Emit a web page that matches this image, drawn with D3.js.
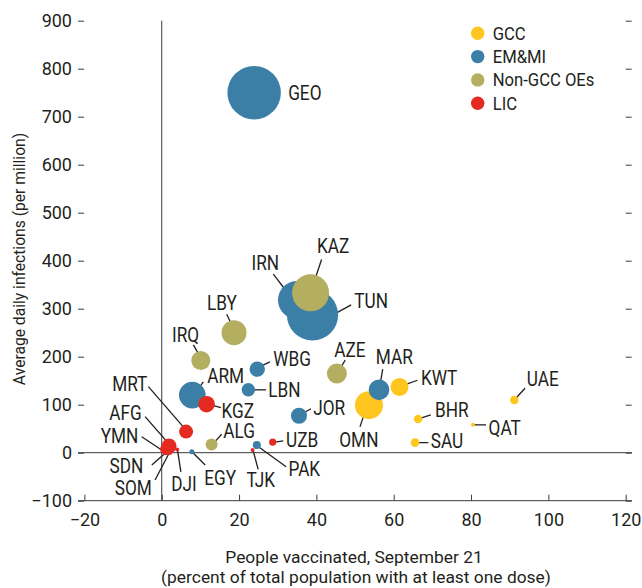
<!DOCTYPE html>
<html>
<head>
<meta charset="utf-8">
<script src="https://cdn.jsdelivr.net/npm/d3@7/dist/d3.min.js"></script>
<style>
  html, body { margin: 0; padding: 0; background: #fff; }
  svg text { font-family: Roboto, "Liberation Sans", sans-serif; fill: #231f20; }
</style>
</head>
<body>
<svg id="chart" width="642" height="588"></svg>
<script>
// ---- Data ----
const codes      = ["GEO","IRN","TUN","KAZ","LBY","IRQ","ARM","KGZ","WBG","LBN","JOR","MRT","ALG","AFG","YMN","SDN","SOM","DJI","EGY","UZB","PAK","TJK","AZE","MAR","OMN","KWT","BHR","SAU","QAT","UAE"];
const groups     = ["EM&MI","EM&MI","EM&MI","Non-GCC OEs","Non-GCC OEs","Non-GCC OEs","EM&MI","LIC","EM&MI","EM&MI","EM&MI","LIC","Non-GCC OEs","LIC","LIC","LIC","LIC","LIC","EM&MI","LIC","EM&MI","LIC","Non-GCC OEs","EM&MI","GCC","GCC","GCC","GCC","GCC","GCC"];
const vaccinated = [23.9, 35.0, 39.0, 38.5, 18.7, 10.1, 7.9, 11.6, 24.7, 22.4, 35.5, 6.3, 12.9, 1.9, 0.85, 1.0, 2.0, 4.0, 7.8, 28.7, 24.6, 23.5, 45.3, 56.2, 53.6, 61.5, 66.3, 65.5, 80.5, 91.2];
const infections = [750, 318, 287, 333, 250, 192, 120, 101, 174, 131, 77, 44, 17, 14, 7, 1, 1.5, 6.5, 2, 22, 16, 5.6, 165, 131, 99, 137, 70, 21, 58, 110];
const bubbleSize = [98, 50, 90, 47, 21.4, 12.4, 24.3, 9.4, 8.1, 6.2, 8.8, 6.7, 4.9, 7.7, 3.4, 1.2, 1.2, 0.55, 0.86, 1.7, 2.2, 0.55, 13.7, 14.6, 26.9, 11.1, 2.5, 2.5, 0.55, 2.5];

const legendGroups = ["GCC","EM&MI","Non-GCC OEs","LIC"];
const xTicks = [-20, 0, 20, 40, 60, 80, 100, 120];
const yTicks = [-100, 0, 100, 200, 300, 400, 500, 600, 700, 800, 900];
const xTitle = ["People vaccinated, September 21", "(percent of total population with at least one dose)"];
const yTitle = "Average daily infections (per million)";

// ---- Label layout (pixel offsets from bubble centre) ----
// [anchor, text dx, text dy, leader x1, y1, x2, y2]
const labelLayout = {
  GEO: ["start", 34, 7.3, null],
  IRN: ["end", -18, -30, -23.7, -26, -10.3, -8.3],
  KAZ: ["start", 6.3, -39.7, 11, -33.4, 4.3, -13.4],
  TUN: ["start", 41.7, -7, 38.7, -10, 20.4, 0],
  LBY: ["start", -27, -22.7, -7.3, -18.4, -2.3, -7.7],
  IRQ: ["start", -28.7, -18.7, -7.4, -15.7, -1.7, -5.7],
  ARM: ["start", 15, -12, 11, -13.3, 5.4, -5],
  KGZ: ["start", 15, 13.3, 14.3, 3.3, 5, 1],
  WBG: ["start", 16, -3, 12.7, -7.3, 3.7, -3],
  LBN: ["start", 20, 7, 17.7, 0, 3.4, 0],
  JOR: ["start", 14.3, -1, 12, -7, 2.7, -1.7],
  ALG: ["start", 11.6, -6.5, 10, -10.3, 3.3, -2.6],
  UZB: ["start", 13.3, 4.7, 10.6, -1.3, 2.3, 0],
  PAK: ["start", 31.6, 31, 29.3, 21.7, 1.6, 1.7],
  TJK: ["start", -6, 37, 5.6, 19.3, 0.6, 0.7],
  EGY: ["start", 12.3, 33.3, 13.3, 13.3, 1, 1],
  DJI: ["start", -6, 41.5, 3.7, 22.2, 0.3, 0.5],
  AFG: ["end", -27.3, -26, -24, -29.3, -3, -5.3],
  YMN: ["end", -26.7, -6.3, -23.3, -12.6, -3.3, 0.7],
  SDN: ["end", -22.2, 20.8, -13.8, 12.8, -0.5, 1.1],
  SOM: ["end", -17.7, 43, -14.4, 28, -0.4, 1.3],
  MRT: ["end", -38.7, -40.7, -37.7, -45, -1.7, -3.4],
  AZE: ["start", -2.7, -16.3, 8.3, -13.3, 3.3, -5],
  MAR: ["start", -3.3, -26, 3.7, -20.7, 1, -5],
  KWT: ["start", 21.4, -1.7, 18, -6.7, 5.7, -2.4],
  OMN: ["start", -29.7, 42, -9, 21.7, -4, 6.7],
  BHR: ["start", 17, -2.3, 12.7, -4.3, 2.7, -1],
  SAU: ["start", 15.7, 5.3, 13.3, 0, 2.3, 0],
  QAT: ["start", 15.6, 10.3, 13, 0, 1.3, 0],
  UAE: ["start", 12.4, -14, 10.7, -11.7, 2.4, -2.7]
};

const colors = d3.scaleOrdinal()
  .domain(legendGroups)
  .range(["#fec61e", "#3b7fa7", "#b4ae61", "#e52a21"]);

const svg = d3.select("#chart");
const x = d3.scaleLinear().domain([-20, 120]).range([84.4, 625.7]);
const y = d3.scaleLinear().domain([-100, 900]).range([500.7, 20.7]);
const r = d3.scaleSqrt().domain([0, 100]).range([0, 27]);
const axisColor = "#3a3a3a";
const condense = 0.84;

// zero line and vertical line
svg.append("line").attr("x1", 78).attr("x2", 632).attr("y1", y(0)).attr("y2", y(0))
  .attr("stroke", axisColor).attr("stroke-width", 1);
svg.append("line").attr("x1", x(0)).attr("x2", x(0)).attr("y1", y(900)).attr("y2", y(-100))
  .attr("stroke", axisColor).attr("stroke-width", 1);

// bottom axis
const xAxis = d3.axisBottom(x).tickValues(xTicks).tickSize(-6).tickPadding(13)
  .tickFormat(d => d < 0 ? "\u2212" + Math.abs(d) : d);
const gx = svg.append("g").attr("transform", `translate(0,${y(-100)})`).call(xAxis);
gx.select(".domain").remove();
gx.selectAll(".tick line").attr("stroke", axisColor);
gx.append("line").attr("x1", 78).attr("x2", 632).attr("y1", 0).attr("y2", 0).attr("stroke", axisColor);
gx.selectAll(".tick text").attr("font-size", 18).attr("fill", "#231f20")
  .style("font-family", 'Roboto, sans-serif');

// left axis
const yAxis = d3.axisLeft(y).tickValues(yTicks).tickSize(6).tickPadding(6)
  .tickFormat(d => d < 0 ? "\u2212" + Math.abs(d) : d);
const gy = svg.append("g").attr("transform", `translate(84,0)`).call(yAxis);
gy.select(".domain").remove();
gy.selectAll(".tick line").attr("stroke", axisColor);
gy.selectAll(".tick text").attr("font-size", 18).attr("fill", "#231f20")
  .style("font-family", 'Roboto, sans-serif');

// right ticks
const gyr = svg.append("g").attr("transform", `translate(625.7,0)`)
  .call(d3.axisRight(y).tickValues(yTicks).tickSize(6).tickFormat(""));
gyr.select(".domain").remove();
gyr.selectAll(".tick line").attr("stroke", axisColor);

// data
const data = codes.map((c, i) => ({
  code: c, group: groups[i], vx: vaccinated[i], vy: infections[i], s: bubbleSize[i]
}));

// leaders
const leaders = svg.append("g");
data.forEach(d => {
  const L = labelLayout[d.code];
  if (L && L.length > 4) {
    const cx = x(d.vx), cy = y(d.vy);
    leaders.append("line")
      .attr("x1", cx + L[3]).attr("y1", cy + L[4])
      .attr("x2", cx + L[5]).attr("y2", cy + L[6])
      .attr("stroke", "#231f20").attr("stroke-width", 1.3);
  }
});

// bubbles (large ones behind)
const sorted = data.slice().sort((a, b) => b.s - a.s);
svg.append("g").selectAll("circle").data(sorted).join("circle")
  .attr("cx", d => x(d.vx)).attr("cy", d => y(d.vy)).attr("r", d => r(d.s))
  .attr("fill", d => colors(d.group));

// labels (condensed)
svg.append("g").selectAll("text").data(data).join("text")
  .attr("transform", d => `translate(${x(d.vx) + labelLayout[d.code][1]},${y(d.vy) + labelLayout[d.code][2]}) scale(${condense},1)`)
  .attr("text-anchor", d => labelLayout[d.code][0])
  .attr("font-size", 20.5)
  .text(d => d.code);

// legend
const lg = svg.append("g");
legendGroups.forEach((g, i) => {
  const yy = 33.3 + i * 23.3;
  lg.append("circle").attr("cx", 477.7).attr("cy", yy).attr("r", 6.7).attr("fill", colors(g));
  lg.append("text").attr("transform", `translate(492.7,${yy + 6.5}) scale(0.9,1)`).attr("font-size", 18.5).text(g);
});

// axis titles
svg.append("text").attr("x", 354).attr("y", 563).attr("text-anchor", "middle").attr("font-size", 17.4).text(xTitle[0]);
svg.append("text").attr("x", 356).attr("y", 583).attr("text-anchor", "middle").attr("font-size", 17.4).text(xTitle[1]);
svg.append("text").attr("transform", "translate(25,259) rotate(-90) scale(0.92,1)").attr("text-anchor", "middle")
  .attr("font-size", 17).text(yTitle);
</script>
</body>
</html>
